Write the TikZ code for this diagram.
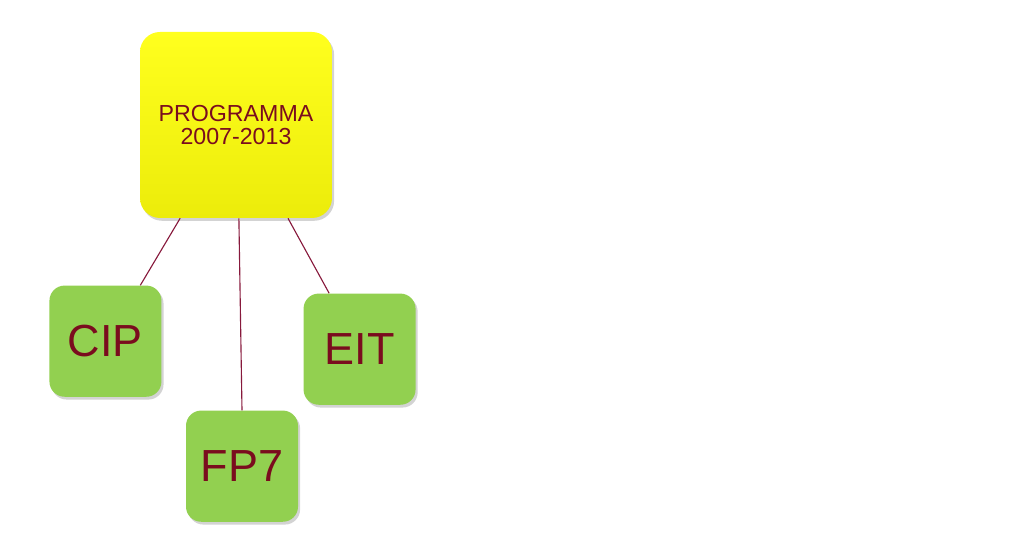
\documentclass[tikz,border=0pt]{standalone}
\usepackage{fontspec}
\setmainfont{Liberation Sans}
\usepackage{tikz}
\usetikzlibrary{positioning, shadows, calc}
\definecolor{ProgYellowTop}{RGB}{255, 255, 30}
\definecolor{ProgYellowBot}{RGB}{236, 236, 10}
\definecolor{SubGreen}{RGB}{146, 208, 80}
\definecolor{TextMaroon}{RGB}{122, 12, 30}
\definecolor{LinkMaroon}{RGB}{135, 25, 60}

\begin{document}
\begin{tikzpicture}[
    progbox/.style={rectangle, rounded corners=0.5cm, top color=ProgYellowTop, bottom color=ProgYellowBot,
                    minimum width=4.8cm, minimum height=4.65cm, align=center, text=TextMaroon,
                    font=\fontsize{16.5}{17}\selectfont,
                    drop shadow={shadow xshift=1.5pt, shadow yshift=-2pt, opacity=0.35, fill=gray}},
    subbox/.style={rectangle, rounded corners=0.38cm, fill=SubGreen,
                   minimum width=2.8cm, minimum height=2.78cm, align=center, text=TextMaroon,
                   font=\fontsize{32}{34}\selectfont,
                   drop shadow={shadow xshift=1.5pt, shadow yshift=-2pt, opacity=0.35, fill=gray}},
    link/.style={draw=LinkMaroon, line width=0.8pt}
]
\useasboundingbox (0,0) rectangle (25.6,-13.95);

% Programme
\node[progbox] (prog) at (5.9,-3.125) {PROGRAMMA\\2007-2013};

% Sub-programmes
\node[subbox, below left=1.675cm and -0.55cm of prog] (cip) {CIP};
\node[subbox, below=4.8cm of prog, xshift=0.15cm] (fp7) {FP7};
\node[subbox, below right=1.875cm and -0.725cm of prog] (eit) {EIT};

% Links
\draw[link] ($(prog.south west)!0.21!(prog.south east)$) -- ($(cip.north west)!0.81!(cip.north east)$);
\draw[link] ($(prog.south west)!0.515!(prog.south east)$) -- (fp7.north);
\draw[link] ($(prog.south west)!0.77!(prog.south east)$) -- ($(eit.north west)!0.23!(eit.north east)$);

\end{tikzpicture}
\end{document}
